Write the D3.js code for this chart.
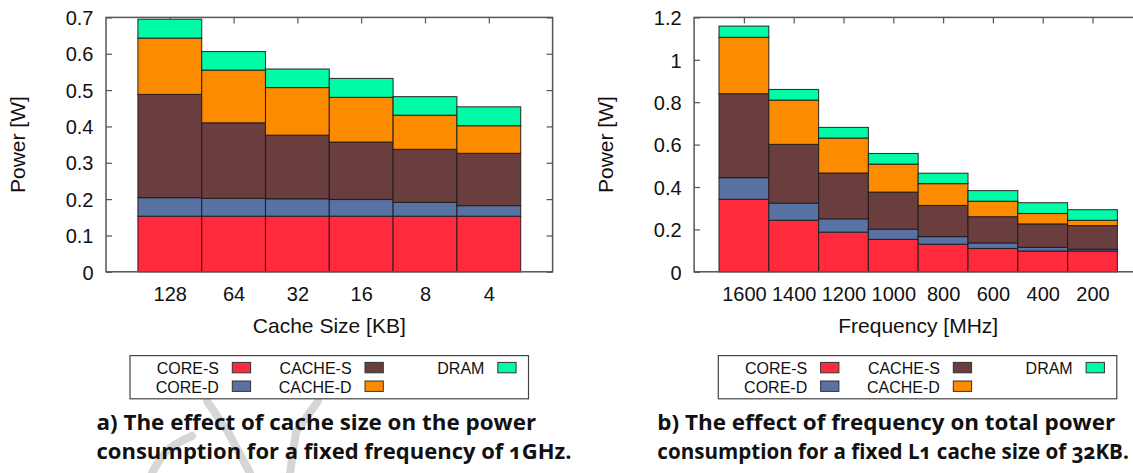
<!DOCTYPE html>
<html>
<head>
<meta charset="utf-8">
<script src="https://cdn.jsdelivr.net/npm/d3@7"></script>
<style>
  html, body { margin: 0; padding: 0; background: #ffffff; overflow: hidden; }
  svg { display: block; }
</style>
</head>
<body>
<script>
// ---------------- data ----------------
const seriesNames = ["CORE-S", "CORE-D", "CACHE-S", "CACHE-D", "DRAM"];
const seriesColors = ["#ff2a3c", "#5872a3", "#6a3d3f", "#fd8b00", "#00fca7"];

// panel a) cache size sweep
const cacheSizes   = ["128", "64", "32", "16", "8", "4"];
const cacheCoreS   = [0.153, 0.153, 0.153, 0.153, 0.153, 0.153];
const cacheCoreD   = [0.051, 0.049, 0.048, 0.046, 0.038, 0.029];
const cacheCacheS  = [0.284, 0.208, 0.175, 0.158, 0.146, 0.144];
const cacheCacheD  = [0.155, 0.145, 0.131, 0.123, 0.094, 0.076];
const cacheDram    = [0.052, 0.051, 0.051, 0.052, 0.051, 0.052];
const cacheYTicks  = [0, 0.1, 0.2, 0.3, 0.4, 0.5, 0.6, 0.7];

// panel b) frequency sweep
const freqs        = ["1600", "1400", "1200", "1000", "800", "600", "400", "200"];
const freqCoreS    = [0.342, 0.243, 0.187, 0.153, 0.130, 0.110, 0.098, 0.098];
const freqCoreD    = [0.102, 0.081, 0.063, 0.048, 0.036, 0.026, 0.017, 0.008];
const freqCacheS   = [0.396, 0.277, 0.216, 0.175, 0.147, 0.124, 0.111, 0.112];
const freqCacheD   = [0.266, 0.209, 0.165, 0.132, 0.103, 0.073, 0.049, 0.025];
const freqDram     = [0.053, 0.050, 0.050, 0.050, 0.049, 0.050, 0.051, 0.050];
const freqYTicks   = [0, 0.2, 0.4, 0.6, 0.8, 1, 1.2];

const captionA = ["a) The effect of cache size on the power", "consumption for a fixed frequency of 1GHz."];
const captionB = ["b) The effect of frequency on total power", "consumption for a fixed L1 cache size of 32KB."];

// ---------------- drawing ----------------
const W = 1133, H = 473;
const svg = d3.select("body").append("svg").attr("width", W).attr("height", H);
const AX_FONT = "'Liberation Sans', Arial, Helvetica, sans-serif";

// faint watermark behind the left caption
const wm = svg.append("g").attr("fill", "none").attr("stroke", "#d6d6d6")
  .attr("stroke-width", 8).attr("stroke-linecap", "round");
wm.append("path").attr("d", d3.line()([[207, 401], [228, 432], [250, 473]]));
wm.append("path").attr("d", d3.line()([[318, 401], [296, 432], [290, 473]]));
wm.append("path").attr("d", d3.line().curve(d3.curveBasis)([[192, 436], [166, 448], [152, 473]]));

function panel(o) {
  const n = o.labels.length;
  const rows = o.labels.map((l, i) => {
    const r = { label: l, idx: i };
    seriesNames.forEach((s, k) => r[s] = o.series[k][i]);
    return r;
  });
  const stacked = d3.stack().keys(seriesNames)(rows);

  const top = 17.4, bottom = 271.8;
  const x = d3.scaleLinear().domain([-1, n]).range([o.left, o.left + (n + 1) * o.bw]);
  const y = d3.scaleLinear().domain([0, o.yMax]).range([bottom, top]);
  const g = svg.append("g");
  const fmt = d => String(+d.toFixed(1));

  // ticks (inward, mirrored)
  const yl = g.append("g").attr("transform", `translate(${x(-1)},0)`)
    .call(d3.axisLeft(y).tickValues(o.yTicks).tickFormat(fmt).tickSize(-6).tickPadding(12.5));
  const yr = g.append("g").attr("transform", `translate(${x(n)},0)`)
    .call(d3.axisRight(y).tickValues(o.yTicks).tickFormat("").tickSize(-6));
  const xb = g.append("g").attr("transform", `translate(0,${bottom})`)
    .call(d3.axisBottom(x).tickValues(d3.range(n)).tickFormat(i => o.labels[i]).tickSize(-6));
  const xt = g.append("g").attr("transform", `translate(0,${top})`)
    .call(d3.axisTop(x).tickValues(d3.range(n)).tickFormat("").tickSize(-6));
  [yl, yr, xb, xt].forEach(a => {
    a.select(".domain").remove();
    a.selectAll("line").attr("stroke", "#555").attr("stroke-width", 1.2);
  });
  yl.selectAll("text").attr("font-family", AX_FONT).attr("font-size", 20).attr("fill", "#111")
    .attr("dy", "0.36em");
  xb.selectAll("text").attr("font-family", AX_FONT).attr("font-size", 20).attr("fill", "#111")
    .attr("dy", 0).attr("y", 28.8);

  // bars
  stacked.forEach((layer, k) => {
    g.append("g").selectAll("rect").data(layer).join("rect")
      .attr("x", (d, i) => x(i - 0.5))
      .attr("width", x(0.5) - x(-0.5))
      .attr("y", d => y(d[1]))
      .attr("height", d => y(d[0]) - y(d[1]))
      .attr("fill", seriesColors[k])
      .attr("stroke", "#1e1a1a")
      .attr("stroke-opacity", 0.85)
      .attr("stroke-width", 1.1);
  });

  // frame
  g.append("rect").attr("x", x(-1)).attr("y", top)
    .attr("width", x(n) - x(-1)).attr("height", bottom - top)
    .attr("fill", "none").attr("stroke", "#555").attr("stroke-width", 1.5);

  // axis titles
  g.append("text").attr("x", (x(-1) + x(n)) / 2).attr("y", o.xTitleY)
    .attr("text-anchor", "middle").attr("font-family", AX_FONT).attr("font-size", 21).attr("fill", "#111")
    .text(o.xTitle);
  g.append("text").attr("transform", `translate(${x(-1) - 81},${(top + bottom) / 2}) rotate(-90)`)
    .attr("text-anchor", "middle").attr("font-family", AX_FONT).attr("font-size", 21).attr("fill", "#111")
    .text("Power [W]");

  // legend
  const L = o.legendLeft, T = 355.6;
  g.append("rect").attr("x", L).attr("y", T).attr("width", 398.5).attr("height", 43.2)
    .attr("fill", "#fff").attr("stroke", "#444").attr("stroke-width", 1.2);
  const colX = [102.3, 235, 367.8];
  const rowBase = [374.2, 392.8];
  seriesNames.forEach((s, k) => {
    const c = Math.floor(k / 2), r = k % 2;
    g.append("text").attr("x", L + colX[c] - 13.4).attr("y", rowBase[r])
      .attr("text-anchor", "end").attr("font-family", AX_FONT).attr("font-size", 16).attr("fill", "#111")
      .text(s);
    g.append("rect").attr("x", L + colX[c]).attr("y", rowBase[r] - 11.8)
      .attr("width", 18.3).attr("height", 10.4)
      .attr("fill", seriesColors[k]).attr("stroke", "#333").attr("stroke-width", 1);
  });

  // caption (condensed horizontally with a scale transform)
  o.caption.forEach((line, i) => {
    const t = g.append("text")
      .attr("font-family", "'Open Sans', 'Noto Sans', sans-serif").attr("font-weight", 700)
      .attr("font-size", 22).attr("fill", "#111")
      .style("font-variant-numeric", "oldstyle-nums")
      .text(line);
    const natural = t.node().getComputedTextLength() || o.capW[i];
    const sx = o.capW[i] / natural;
    t.attr("transform", `translate(${o.capX},${[430, 459][i]}) scale(${sx},1)`);
  });
}

panel({
  labels: cacheSizes,
  series: [cacheCoreS, cacheCoreD, cacheCacheS, cacheCacheD, cacheDram],
  yMax: 0.7, yTicks: cacheYTicks,
  left: 106, bw: 63.8,
  xTitle: "Cache Size [KB]", xTitleY: 333,
  legendLeft: 130,
  caption: captionA, capX: 96.5, capW: [440, 475]
});

panel({
  labels: freqs,
  series: [freqCoreS, freqCoreD, freqCacheS, freqCacheD, freqDram],
  yMax: 1.2, yTicks: freqYTicks,
  left: 694.1, bw: 49.8,
  xTitle: "Frequency [MHz]", xTitleY: 333,
  legendLeft: 718.3,
  caption: captionB, capX: 657.3, capW: [458, 472]
});
</script>
</body>
</html>
